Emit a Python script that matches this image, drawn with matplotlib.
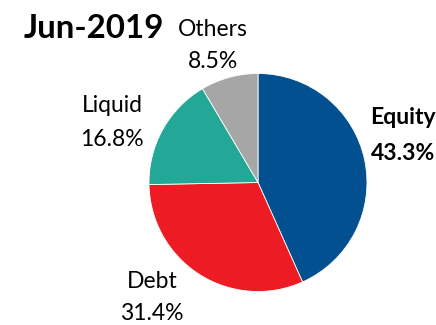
import matplotlib
matplotlib.use("Agg")
import matplotlib.pyplot as plt

categories = ["Equity", "Debt", "Liquid", "Others"]
shares = [43.3, 31.4, 16.8, 8.5]
colors = ["#02508F", "#ED1C24", "#23A797", "#A6A6A6"]
title = "Jun-2019"

W, H = 436, 325
fig = plt.figure(figsize=(W / 100, H / 100), dpi=100)
ax = fig.add_axes([0, 0, 1, 1])

cx, cy, r = 258, 182.5, 109
# Inverted y-axis flips the wedge direction, so counterclock=True gives clockwise on screen
ax.pie(shares, colors=colors, startangle=-90, counterclock=True,
       center=(cx, cy), radius=r, frame=True,
       wedgeprops=dict(linewidth=0.6, edgecolor="white"))
ax.set_xlim(0, W)
ax.set_ylim(H, 0)
ax.set_aspect("equal")
ax.axis("off")

font = "Lato"
label_pos = {
    "Equity": (403, 118, 153),
    "Debt": (152, 282, 313),
    "Liquid": (112, 106, 139),
    "Others": (213, 30, 62),
}
for name, val in zip(categories, shares):
    x, y1, y2 = label_pos[name]
    weight = "bold" if name == "Equity" else "normal"
    ax.text(x, y1, name, ha="center", va="center", fontsize=16.5,
            family=font, weight=weight)
    ax.text(x, y2, f"{val}%", ha="center", va="center", fontsize=16.5,
            family=font, weight=weight)

ax.text(24, 29, title, ha="left", va="center", fontsize=23.8,
        family=font, weight="bold")

fig.savefig("out.png", dpi=100)
